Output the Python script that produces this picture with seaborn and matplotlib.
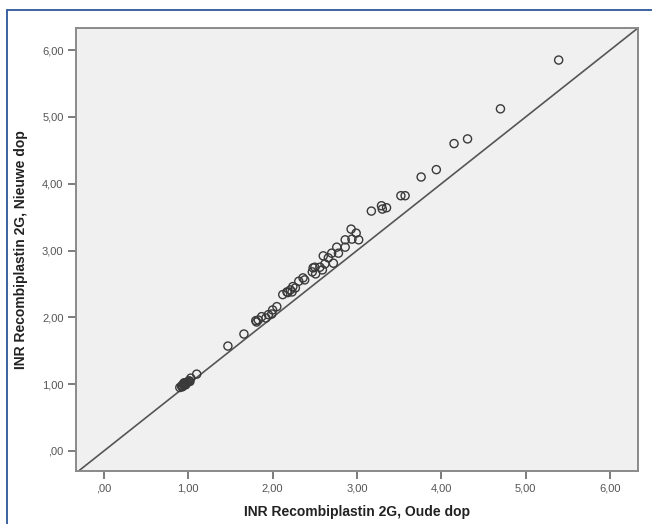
import numpy as np
import pandas as pd
import seaborn as sns
import matplotlib.pyplot as plt
from matplotlib.patches import Rectangle
from matplotlib.ticker import FuncFormatter

# INR values (old cap vs new cap)
oude_dop = [5.39, 4.70, 4.31, 4.15, 3.94, 3.76, 3.57, 3.52, 3.35, 3.29,
            3.30, 3.17, 2.93, 2.99, 2.86, 2.94, 3.02, 2.76, 2.70, 2.60,
            2.66, 2.72, 2.62, 2.50, 2.56, 2.47, 2.51, 2.59, 2.36, 2.31,
            2.24, 2.17, 2.12, 2.05, 2.00, 1.95, 1.87, 1.83, 1.80, 1.81,
            1.92, 1.66, 1.47, 1.10, 1.03, 0.90, 0.92, 0.93, 0.94, 0.95,
            0.96, 0.97, 0.98, 0.99, 1.00, 1.01, 0.95, 0.97, 1.02, 0.93,
            2.86, 2.78, 2.48, 2.38, 2.27, 2.21, 2.23, 2.18, 1.99]
nieuwe_dop = [5.85, 5.12, 4.67, 4.60, 4.21, 4.10, 3.82, 3.82, 3.64, 3.67,
              3.62, 3.59, 3.32, 3.26, 3.16, 3.17, 3.16, 3.05, 2.96, 2.92,
              2.89, 2.81, 2.80, 2.75, 2.75, 2.68, 2.65, 2.71, 2.59, 2.54,
              2.46, 2.38, 2.34, 2.16, 2.11, 2.04, 2.01, 1.96, 1.95, 1.93,
              1.99, 1.75, 1.57, 1.15, 1.09, 0.95, 0.97, 0.98, 1.00, 0.99,
              1.01, 1.02, 1.02, 1.03, 1.04, 1.05, 1.02, 0.99, 1.04, 0.96,
              3.05, 2.96, 2.74, 2.56, 2.44, 2.41, 2.38, 2.37, 2.05]
ticks = [0, 1, 2, 3, 4, 5, 6]

df = pd.DataFrame({'oude': oude_dop, 'nieuwe': nieuwe_dop})

sns.set_style('white')
plt.rcParams['font.family'] = ['Liberation Sans', 'DejaVu Sans']

fig = plt.figure(figsize=(6.52, 5.24), dpi=100)
ax = fig.add_axes([0.1166, 0.1011, 0.8619, 0.8455])
ax.set_facecolor('#f0f0f0')

# reference line y = x
ax.axline((0, 0), (1, 1), color='#555555', linewidth=1.2, zorder=1)

sns.scatterplot(data=df, x='oude', y='nieuwe', ax=ax, marker='o', s=34,
                facecolor='none', edgecolor='#3a3a3a', linewidth=1.0,
                zorder=2, legend=False)

ax.set_xlim(-0.33, 6.33)
ax.set_ylim(-0.30, 6.33)
ax.set_xticks(ticks)
ax.set_yticks(ticks)

def comma_fmt(v, pos):
    s = '%.2f' % v
    s = s.replace('.', ',')
    if s.startswith('0,'):
        s = s[1:]
    return s

ax.xaxis.set_major_formatter(FuncFormatter(comma_fmt))
ax.yaxis.set_major_formatter(FuncFormatter(comma_fmt))
ax.tick_params(axis='both', direction='out', length=6, width=1.2,
               color='#666666', labelcolor='#555555', labelsize=8,
               bottom=True, left=True, pad=3)

for sp in ax.spines.values():
    sp.set_color('#8a8a8a')
    sp.set_linewidth(1.4)

ax.set_xlabel('INR Recombiplastin 2G, Oude dop', fontsize=10,
              fontweight='bold', color='#222222', labelpad=8)
ax.set_ylabel('INR Recombiplastin 2G, Nieuwe dop', fontsize=10,
              fontweight='bold', color='#222222', labelpad=10)

# blue frame around the chart
fig.patches.append(Rectangle((0.0107, -0.01), 1.0, 0.991,
                             transform=fig.transFigure, fill=False,
                             edgecolor='#2b5797', linewidth=1.3))

fig.savefig('out.png', dpi=100)
